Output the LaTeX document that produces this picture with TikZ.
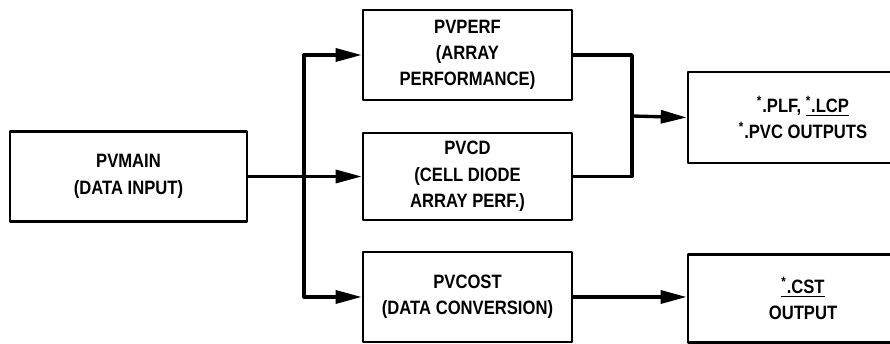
\documentclass[tikz,border=0pt]{standalone}
\usepackage{fontspec}
\setmainfont{Liberation Sans}[FakeStretch=0.86]
\usetikzlibrary{arrows.meta}
\begin{document}
\begin{tikzpicture}[font=\bfseries\fontsize{11}{15}\selectfont, line join=round, line cap=round,
	>={Triangle[length=5.2mm,width=2.6mm]},
	blk/.style={draw, line width=1.5pt, align=center, inner sep=0pt},
	flow/.style={line width=1.9pt}]
	\def\xbr{6.08} % Nhanh tach
	\def\xmg{12.64} \def\ymg{4.56} % Nhanh gop
	\useasboundingbox (0,0) rectangle (17.8,6.88);
	\node[blk, minimum width=4.74cm, minimum height=1.8cm] (main) at (2.57,3.35) {PVMAIN\\(DATA INPUT)};
	\node[blk, minimum width=4.18cm, minimum height=1.8cm] (perf) at (9.35,5.78) {PVPERF\\(ARRAY\\PERFORMANCE)};
	\node[blk, minimum width=4.18cm, minimum height=1.74cm] (cd) at (9.35,3.35) {PVCD\\(CELL DIODE\\ARRAY PERF.)};
	\node[blk, minimum width=4.18cm, minimum height=1.8cm] (cost) at (9.35,0.94) {PVCOST\\(DATA CONVERSION)};
	\node[blk, minimum width=4.6cm, minimum height=1.82cm] (out1) at (16.06,4.53) {\textsuperscript{*}.PLF, \underline{\textsuperscript{*}.LCP}\\\textsuperscript{*}.PVC OUTPUTS};
	\node[blk, minimum width=4.6cm, minimum height=1.76cm] (out2) at (16.06,0.91) {\underline{\textsuperscript{*}.CST}\\OUTPUT};
	\coordinate (br) at (\xbr,3.35);
	\coordinate (mg) at (\xmg,\ymg);
	\draw[flow,->] (main.east) -- (cd.west);
	\draw[flow,->] (br) |- (perf.west);
	\draw[flow,->] (br) |- (cost.west);
	\draw[flow] (perf.east) -| (mg) (cd.east) -| (mg);
	\draw[flow,->] (mg) -- (out1.west);
	\draw[flow,->] (cost.east) -- (cost.east -| out2.west);
\end{tikzpicture}
\end{document}
